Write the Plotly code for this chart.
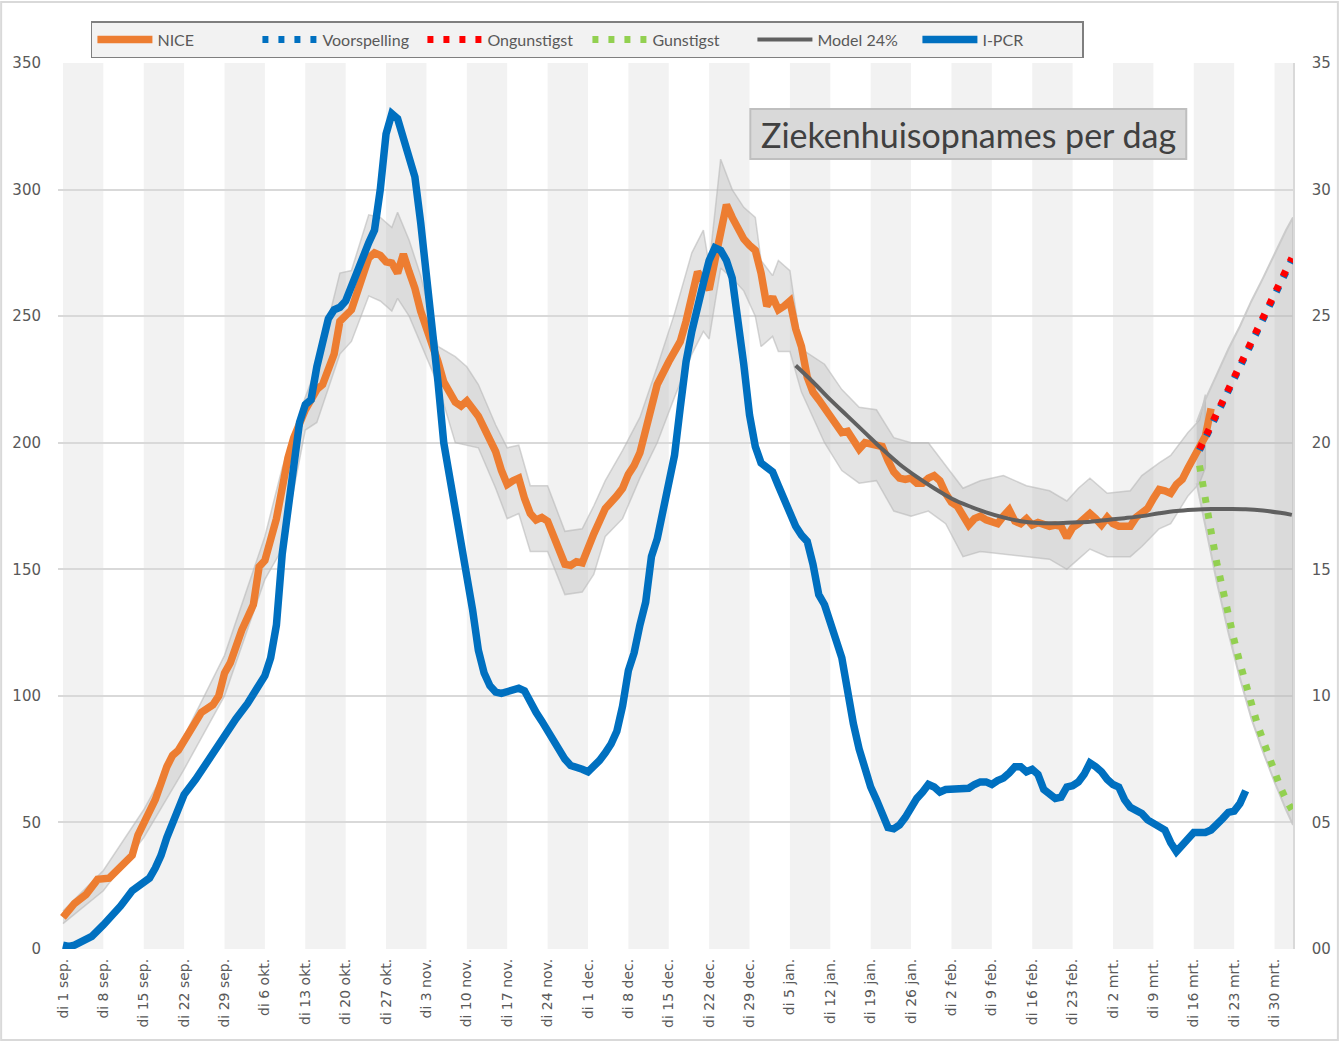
import pandas as pd
import plotly.graph_objects as go

START = pd.Timestamp("2020-09-01")

# ---------------- data (days counted from di 1 sep. 2020) ----------------
tick_days = list(range(0, 211, 7))
tick_labels = ["di 1 sep.", "di 8 sep.", "di 15 sep.", "di 22 sep.", "di 29 sep.",
               "di 6 okt.", "di 13 okt.", "di 20 okt.", "di 27 okt.", "di 3 nov.",
               "di 10 nov.", "di 17 nov.", "di 24 nov.", "di 1 dec.", "di 8 dec.",
               "di 15 dec.", "di 22 dec.", "di 29 dec.", "di 5 jan.", "di 12 jan.",
               "di 19 jan.", "di 26 jan.", "di 2 feb.", "di 9 feb.", "di 16 feb.",
               "di 23 feb.", "di 2 mrt.", "di 9 mrt.", "di 16 mrt.", "di 23 mrt.",
               "di 30 mrt."]

nice_days = [0, 2, 4, 5, 6, 8, 10, 12, 13, 14, 16, 18, 19, 20, 22, 24, 26, 27, 28, 29,
             31, 33, 34, 35, 37, 38, 39, 40, 41, 42, 44, 45, 47, 48, 50, 52, 53, 54, 55, 56,
             57, 58, 59, 60, 61, 62, 63, 65, 66, 67, 68, 69, 70, 72, 73, 74, 75, 76, 77, 78,
             79, 80, 81, 82, 83, 84, 85, 86, 87, 88, 89, 90, 91, 92, 93, 94, 96, 97, 98, 99,
             100, 101, 103, 105, 106, 107, 108, 109, 110, 111, 112, 113, 114, 115, 116, 117, 118, 119, 120, 121,
             122, 123, 124, 125, 126, 127, 128, 129, 130, 131, 132, 133, 134, 135, 136, 137, 138, 139, 141, 142,
             143, 144, 145, 146, 147, 148, 149, 150, 151, 152, 153, 154, 155, 156, 157, 158, 159, 160, 161, 162,
             163, 164, 165, 166, 167, 168, 169, 170, 171, 172, 173, 174, 175, 176, 177, 178, 179, 180, 181, 182,
             183, 185, 186, 187, 188, 189, 190, 191, 192, 193, 194, 195, 196, 197, 198, 199]
nice_values = [12.5, 18, 21.5, 24, 27.5, 28, 32.5, 37, 45, 50, 59, 72, 76.5, 78.5, 86.5, 93.5, 96.5, 100, 109, 113,
               126, 136, 151, 153.5, 170, 182, 194, 202, 207, 213, 221, 223, 235, 248, 252.5, 266, 273, 275, 274, 271.5,
               271, 267, 274.5, 267.5, 261, 252, 246, 232, 224, 220, 216, 214.5, 216.5, 210.5, 205.5, 201, 196.5, 189, 183.5, 185,
               186, 178, 172, 169.5, 170.5, 169, 163, 156, 152, 151.5, 153, 152.5, 159, 164, 169, 174, 179, 182, 187.5, 191,
               196, 206, 223, 232, 236.5, 240, 248, 258, 267.5, 264, 260.5, 272, 285, 294, 289, 285, 280.5, 278, 276, 267,
               254, 257.5, 252.5, 254, 256, 245, 238, 226, 220, 217, 214, 211, 208, 204, 204.5, 201, 197.5, 200, 198.5, 198.5,
               193, 188.5, 186, 185.5, 186, 184, 184, 186, 187, 185, 180, 176.5, 175, 171, 167.5, 170, 171, 169.5, 169, 168,
               171, 173.5, 169, 168, 170, 167.5, 168.5, 168, 167, 167.5, 167, 162.5, 166.5, 168, 170, 172, 170, 167.5, 170.5, 168,
               167, 167, 170.5, 172, 174, 178, 181.5, 181, 180, 183.5, 185.5, 190, 194.5, 197.5, 202.5, 213.5]

band_days = [0, 7, 14, 21, 28, 35, 38, 42, 44, 48, 50, 53, 55, 57, 58, 60, 62, 65, 68, 70,
             72, 75, 77, 79, 81, 84, 87, 90, 92, 94, 97, 100, 103, 106, 109, 111, 112, 114, 116, 118,
             120, 121, 123, 124, 126, 128, 132, 135, 138, 141, 144, 147, 150, 153, 156, 159, 163, 167, 171, 174,
             176, 178, 181, 185, 187, 190, 192, 195, 197, 198]
band_low = [10, 23, 44, 71, 100, 146, 158, 205, 208, 235, 240, 258, 256, 252, 257, 250, 239, 223, 200, 199,
            198, 182, 170, 172, 157, 157, 140, 141, 148, 163, 170, 186, 200, 218, 235, 244, 241, 269, 265, 260,
            250, 238, 242, 236, 236, 220, 200, 189, 184, 185, 173, 171, 173, 168, 155, 157, 156, 155, 154, 150,
            154, 158, 155, 155, 159, 166, 168, 179, 184, 190]
band_high = [15, 31, 55, 84, 116, 163, 190, 218, 230, 267, 268, 290, 289, 285, 291, 280, 266, 238, 234, 230,
             223, 207, 198, 199, 183, 183, 165, 166, 175, 185, 197, 210, 230, 251, 275, 284, 270, 312, 300, 293,
             289, 272, 266, 272, 268, 237, 231, 221, 214, 213, 202, 200, 200, 191, 182, 185, 187, 183, 181, 177,
             182, 186, 180, 181, 187, 192, 195, 204, 209, 219]

pcr_days = [0, 1, 2, 3, 5, 7, 9, 10, 12, 14, 15, 16, 17, 18, 20, 21, 23, 25, 27, 28,
            30, 32, 34, 35, 36, 37, 38, 39, 40, 41, 42, 43, 44, 45, 46, 47, 48, 49, 50, 51,
            52, 53, 54, 55, 56, 57, 58, 59, 60, 61, 62, 63, 64, 65, 66, 67, 68, 69, 70, 71,
            72, 73, 74, 75, 76, 77, 78, 79, 80, 81, 82, 83, 84, 85, 86, 87, 88, 89, 90, 91,
            92, 93, 94, 95, 96, 97, 98, 99, 100, 101, 102, 103, 104, 105, 106, 107, 108, 109, 110, 111,
            112, 113, 114, 115, 116, 117, 118, 119, 120, 121, 122, 123, 124, 125, 126, 127, 128, 129, 130, 131,
            132, 133, 134, 135, 136, 137, 138, 139, 140, 141, 142, 143, 144, 145, 146, 147, 148, 149, 150, 151,
            152, 153, 155, 157, 158, 159, 160, 161, 162, 163, 164, 165, 166, 167, 168, 169, 170, 171, 172, 173,
            174, 175, 176, 177, 178, 179, 180, 181, 182, 183, 184, 185, 186, 187, 188, 189, 190, 191, 192, 193,
            194, 195, 196, 197, 198, 199, 200, 201, 202, 203, 204, 205]
pcr_values = [1.5, 1, 1.5, 2.5, 5, 9.5, 14, 17, 23, 26, 28, 32, 37, 44, 56, 61, 67, 74, 81, 84.5,
              91, 97, 105, 108, 115, 128, 156, 175, 195, 208, 215, 217, 230, 240, 249, 252.5, 253.5, 256, 262, 268,
              274.5, 279, 284, 300, 322, 330, 328, 321, 314, 305, 287, 267, 245, 224, 200, 187, 175, 160, 146, 134,
              118, 109, 104, 101.5, 101, 101.5, 102, 103, 102, 97, 93.5, 90, 86, 82, 78, 75, 72.5, 72, 71, 70,
              72, 74.5, 77.5, 81, 86, 96, 110, 117, 128, 137, 155, 162, 173, 183, 195, 214, 232, 244, 255, 263,
              272, 277, 276, 272, 265, 250, 231, 211, 198.5, 192, 190, 188.5, 183, 177, 171, 167, 163.5, 161, 152, 140,
              136, 130, 122, 115, 100, 89, 79, 71, 64, 59, 53, 48, 47.5, 49, 52, 56, 59.5, 62, 65, 64,
              62, 63, 63, 63.5, 65, 66, 66, 65, 66.5, 67.5, 69.5, 72, 72, 70, 71, 69, 63, 61, 59.5, 60,
              64, 64.5, 66, 69, 73.5, 72, 70, 67, 65, 64, 59, 56, 55, 53.5, 51, 49.5, 48, 47, 42, 38.5,
              41, 44, 46, 46, 46, 47, 49, 51.5, 54, 54.5, 57.5, 62.5]

model_days = [127, 130, 133, 136, 139, 142, 145, 148, 151, 154, 157, 160, 163, 166, 169, 172,
              175, 178, 181, 184, 187, 190, 193, 196, 199, 202, 205, 208, 211, 213]
model_values = [230.5, 224, 217, 210.5, 204, 197.5, 191.5, 186.5, 182, 178, 175, 172.5, 170.5, 169, 168.3, 168.2,
                168.5, 168.8, 169.5, 170.2, 171, 172.1, 173, 173.5, 173.8, 173.8, 173.7, 173.2, 172.3, 171.5]

fc_days = [197, 199, 201, 203, 205, 207, 209, 211, 213]
ongunstigst = [197.5, 207, 216.5, 226, 235.5, 245, 254.5, 264, 273]
voorspelling = [197, 206.3, 215.8, 225.2, 234.7, 244.2, 253.7, 263.2, 272.2]

gunst_days = [197, 198, 199, 200, 201, 202, 203, 204, 205, 206, 207, 208, 209, 210, 211, 212, 213]
gunstigst = [191, 176, 165, 152.5, 141.5, 131.5, 122, 113, 104.5, 96, 89, 82.5, 76, 70.5, 64, 59, 55]

fcband_days = [196.5, 198, 200, 202, 204, 206, 208, 210, 212, 213.2]
fcband_low = [184, 168, 145, 125, 107, 91, 78, 66, 55, 49]
fcband_high = [208, 217, 227, 237, 246, 256, 265, 274.5, 284, 289]


def to_dates(days):
    return [START + pd.Timedelta(days=float(d)) for d in days]


fig = go.Figure()

# NICE uncertainty band
fig.add_trace(go.Scatter(
    x=to_dates(band_days) + to_dates(band_days[::-1]),
    y=band_high + band_low[::-1],
    fill="toself", fillcolor="rgba(185,185,185,0.38)",
    line=dict(color="rgba(180,180,180,0.55)", width=1.5),
    mode="lines", hoverinfo="skip", showlegend=False))

# forecast band
fig.add_trace(go.Scatter(
    x=to_dates(fcband_days) + to_dates(fcband_days[::-1]),
    y=fcband_high + fcband_low[::-1],
    fill="toself", fillcolor="rgba(170,170,170,0.33)",
    line=dict(color="rgba(200,200,200,0.9)", width=2),
    mode="lines", hoverinfo="skip", showlegend=False))

DOT = "6px,10px"
fig.add_trace(go.Scatter(x=to_dates(nice_days), y=nice_values, name="NICE", mode="lines",
                         line=dict(color="#ED7D31", width=7.5), legendrank=1))
fig.add_trace(go.Scatter(x=to_dates(model_days), y=model_values, name="Model 24%", mode="lines",
                         line=dict(color="#606060", width=4, shape="spline"), legendrank=5))
fig.add_trace(go.Scatter(x=to_dates(pcr_days), y=pcr_values, name="I-PCR", mode="lines",
                         line=dict(color="#0070C0", width=7.5), legendrank=6))
fig.add_trace(go.Scatter(x=to_dates(fc_days), y=voorspelling, name="Voorspelling", mode="lines",
                         line=dict(color="#0070C0", width=7, dash=DOT), legendrank=2))
fig.add_trace(go.Scatter(x=to_dates(fc_days), y=ongunstigst, name="Ongunstigst", mode="lines",
                         line=dict(color="#FF0000", width=7, dash=DOT), legendrank=3))
fig.add_trace(go.Scatter(x=to_dates(gunst_days), y=gunstigst, name="Gunstigst", mode="lines",
                         line=dict(color="#92D050", width=7, dash=DOT), legendrank=4))

# invisible trace for the right-hand axis
fig.add_trace(go.Scatter(x=[START], y=[0], yaxis="y2", mode="markers",
                         marker=dict(opacity=0), showlegend=False, hoverinfo="skip"))

# weekly alternating stripes
shapes = []
for k, d in enumerate(tick_days):
    if k % 2 == 0:
        shapes.append(dict(type="rect", xref="x", yref="paper",
                           x0=START + pd.Timedelta(days=d), x1=START + pd.Timedelta(days=d + 7),
                           y0=0, y1=1, fillcolor="#f2f2f2", line=dict(width=0), layer="below"))

L, R, T, B = 58, 47, 63, 94
W, H = 1343, 1043
pw, ph = W - L - R, H - T - B


def px(xp):
    return (xp - L) / pw


def py(yp):
    return (H - B - yp) / ph


# title box
shapes.append(dict(type="rect", xref="paper", yref="paper",
                   x0=px(752), x1=px(1189), y0=py(159), y1=py(109),
                   fillcolor="#d9d9d9", line=dict(color="#bfbfbf", width=2), layer="above"))
# outer frame
shapes.append(dict(type="rect", xref="paper", yref="paper",
                   x0=px(1), x1=px(1341), y0=py(1040), y1=py(2),
                   fillcolor="rgba(0,0,0,0)", line=dict(color="#d9d9d9", width=2), layer="above"))

fig.update_layout(
    width=W, height=H,
    margin=dict(l=L, r=R, t=T, b=B),
    paper_bgcolor="white", plot_bgcolor="white",
    shapes=shapes,
    showlegend=True,
    legend=dict(orientation="h", x=px(91), y=py(21), xanchor="left", yanchor="top",
                bgcolor="#f2f2f2", bordercolor="#7f7f7f", borderwidth=1.5,
                font=dict(family="Lato", size=16, color="#595959"),
                itemwidth=55, entrywidth=95, traceorder="normal"),
    xaxis=dict(type="date",
               range=[START - pd.Timedelta(days=0.86), START + pd.Timedelta(days=213.2)],
               tickvals=to_dates(tick_days), ticktext=tick_labels, tickangle=-90,
               tickfont=dict(family="DejaVu Sans", size=14, color="#595959"),
               showgrid=False, zeroline=False, showline=False, ticks="",
               ticklabelstandoff=6),
    yaxis=dict(range=[0, 350], tickvals=list(range(0, 351, 50)),
               showgrid=True, gridcolor="#d9d9d9", gridwidth=1.5, zeroline=False,
               tickfont=dict(family="DejaVu Sans", size=15, color="#595959"),
               ticks="", ticklabelstandoff=16),
    yaxis2=dict(range=[0, 35], overlaying="y", side="right",
                tickvals=list(range(0, 36, 5)),
                ticktext=["00", "05", "10", "15", "20", "25", "30", "35"],
                showgrid=False, zeroline=False, showline=True, linecolor="#d9d9d9", linewidth=1.5,
                tickfont=dict(family="DejaVu Sans", size=15, color="#595959"),
                ticks="", ticklabelstandoff=14),
    annotations=[dict(text="Ziekenhuisopnames per dag", xref="paper", yref="paper",
                      x=px(970.5), y=py(134), xanchor="center", yanchor="middle", showarrow=False,
                      font=dict(family="Lato", size=34, color="#404040"))],
)

fig.write_html("out.html")
